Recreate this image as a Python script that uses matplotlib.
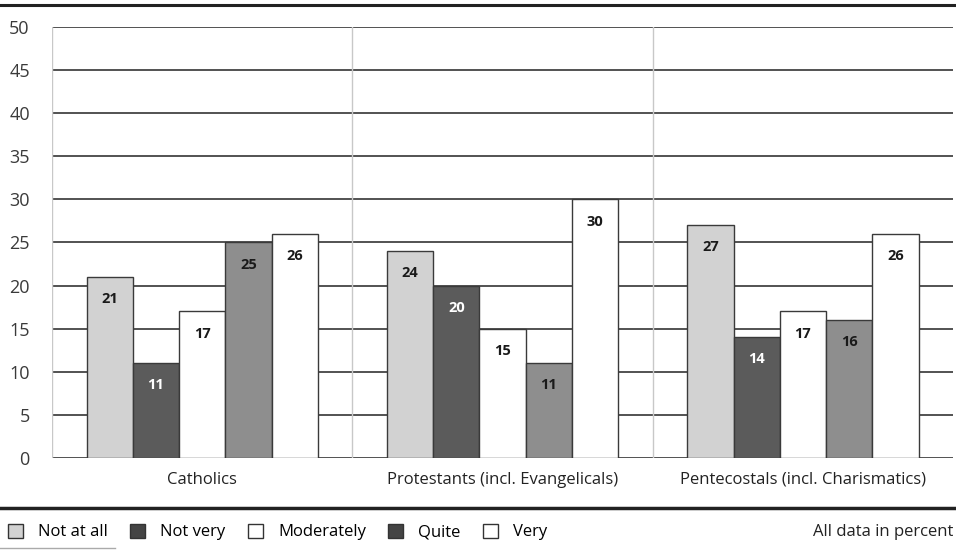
import numpy as np
import matplotlib.pyplot as plt
from matplotlib.lines import Line2D

groups = ["Catholics", "Protestants (incl. Evangelicals)", "Pentecostals (incl. Charismatics)"]
series = ["Not at all", "Not very", "Moderately", "Quite", "Very"]
not_at_all = [21, 24, 27]
not_very = [11, 20, 14]
moderately = [17, 15, 17]
quite = [25, 11, 16]
very = [26, 30, 26]
yticks = [0, 5, 10, 15, 20, 25, 30, 35, 40, 45, 50]

values = [not_at_all, not_very, moderately, quite, very]
colors = ["#d2d2d2", "#5b5b5b", "#ffffff", "#8e8e8e", "#ffffff"]
label_colors = ["#1a1a1a", "#ffffff", "#1a1a1a", "#1a1a1a", "#1a1a1a"]

plt.rcParams['font.family'] = ['Open Sans', 'DejaVu Sans']

fig = plt.figure(figsize=(9.56, 5.51), dpi=100)
ax = fig.add_axes([0.0544, 0.169, 0.9426, 0.782])

x = np.arange(len(groups))
w = 0.154
for i, (vals, c, lc) in enumerate(zip(values, colors, label_colors)):
    pos = x + (i - 2) * w
    bars = ax.bar(pos, vals, width=w, color=c, edgecolor="#3a3a3a", linewidth=1.0, zorder=3)
    for b, v in zip(bars, vals):
        ax.annotate(str(v), (b.get_x() + b.get_width() / 2, v), xytext=(0, -16),
                    textcoords="offset points", ha="center", va="center",
                    fontsize=10.5, fontweight="bold", color=lc, zorder=4)

ax.set_xlim(-0.5, 2.5)
ax.set_ylim(0, 50)
ax.set_yticks(yticks)
ax.set_xticks(x)
ax.set_xticklabels(groups, fontsize=12, color="#222222")
ax.tick_params(axis="y", length=0, pad=16, labelsize=13, labelcolor="#3a3a3a")
ax.tick_params(axis="x", length=0, pad=10)

for yv in yticks:
    ax.axhline(yv, color="#444444", linewidth=1.3, zorder=1)
for xv in [-0.5, 0.5, 1.5]:
    ax.axvline(xv, color="#c8c8c8", linewidth=1.0, zorder=1)

for s in ax.spines.values():
    s.set_visible(False)

# page rules
fig.add_artist(Line2D([0, 1], [1 - 5 / 551, 1 - 5 / 551], color="#222222", linewidth=2.2))
fig.add_artist(Line2D([0, 1], [1 - 508 / 551, 1 - 508 / 551], color="#222222", linewidth=2.5))
fig.add_artist(Line2D([0, 0.12], [1 - 548 / 551, 1 - 548 / 551], color="#aaaaaa", linewidth=1.0))

leg_handles = [plt.Rectangle((0, 0), 1, 1, facecolor=c, edgecolor="#333333", linewidth=1.0)
               for c in ["#d2d2d2", "#444444", "#ffffff", "#444444", "#ffffff"]]
fig.legend(leg_handles, series, loc="center left", bbox_to_anchor=(0.003, 1 - 532 / 551),
           ncol=5, frameon=False, fontsize=12, handlelength=0.9, handleheight=0.9,
           handletextpad=0.9, columnspacing=1.35, borderaxespad=0, borderpad=0.3)
fig.text(0.997, 1 - 532 / 551, "All data in percent", ha="right", va="center",
         fontsize=12, color="#222222")

fig.savefig("out.png", dpi=100)
